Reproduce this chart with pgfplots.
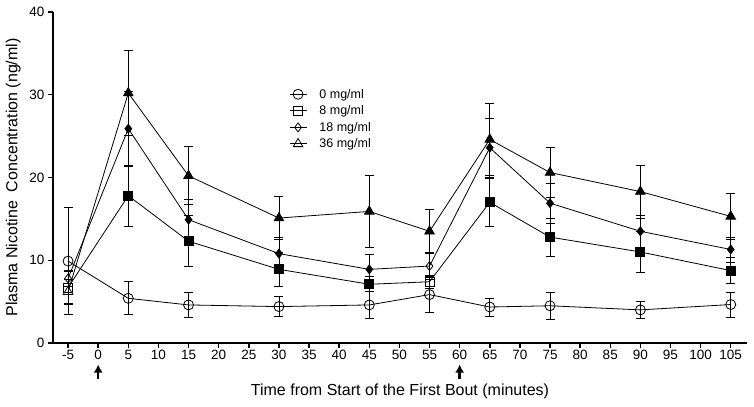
\documentclass[border=0pt]{standalone}
\usepackage{pgfplots}
\pgfplotsset{compat=1.18}
\usepackage{pgfplotstable}
\usetikzlibrary{arrows.meta}
\usepackage{fontspec}
\setmainfont{Liberation Sans}

% x, mean, error, marker class (o = open, f = filled)
\pgfplotstableread{
x y e c
-5 9.9 6.5 o
5 5.4 2.0 o
15 4.6 1.5 o
30 4.4 1.2 o
45 4.6 1.6 o
55 5.85 2.2 o
65 4.35 1.1 o
75 4.5 1.6 o
90 4.0 1.0 o
105 4.65 1.5 o
}\dzero
\pgfplotstableread{
x y e c
-5 6.7 1.9 o
5 17.8 3.7 f
15 12.3 3.1 f
30 8.9 2.0 f
45 7.1 0.9 f
55 7.4 0.8 o
65 17.0 2.9 f
75 12.8 2.3 f
90 11.0 2.5 f
105 8.75 1.55 f
}\deight
\pgfplotstableread{
x y e c
-5 7.8 1.0 o
5 25.9 4.5 f
15 14.9 2.5 f
30 10.8 2.0 f
45 8.9 1.8 f
55 9.3 1.6 o
65 23.6 3.6 f
75 16.9 2.4 f
90 13.5 1.9 f
105 11.3 1.5 f
}\deighteen
\pgfplotstableread{
x y e c
-5 6.2 1.5 o
5 30.2 5.1 f
15 20.2 3.5 f
30 15.1 2.6 f
45 15.9 4.3 f
55 13.5 2.7 f
65 24.6 4.4 f
75 20.6 3.0 f
90 18.3 3.2 f
105 15.3 2.8 f
}\dthirtysix

\pgfplotsset{
  serie/.style={black, line width=0.8bp, scatter, point meta=explicit symbolic,
    error bars/y dir=both, error bars/y explicit,
    error bars/error bar style={line width=0.8bp, black},
    error bars/error mark options={rotate=90, mark size=4.5bp, line width=0.8bp, black}},
}

\begin{document}
\begin{tikzpicture}
\begin{axis}[
  scale only axis,
  width=694bp, height=331bp,
  xmin=-7.5, xmax=107.7,
  ymin=0, ymax=40,
  axis lines=left,
  axis line style={-, line width=1.8bp},
  clip=false,
  xtick={-5,0,...,105},
  ytick={0,10,20,30,40},
  tick align=outside,
  major tick length=5bp,
  tick style={line width=1.5bp, black},
  /pgf/number format/assume math mode=true,
  ticklabel style={font=\fontsize{13.5bp}{15bp}\selectfont},
  xticklabel style={yshift=1bp},
  xlabel={Time from Start of the First Bout (minutes)},
  ylabel={Plasma Nicotine\ \ Concentration (ng/ml)},
  label style={font=\fontsize{16bp}{18bp}\selectfont},
  xlabel style={yshift=-17bp},
  ylabel style={yshift=2bp},
  legend style={draw=none, fill=none, at={(0.340,0.774)}, anchor=north west,
    inner sep=0pt,
    font=\fontsize{12.5bp}{14bp}\selectfont, row sep=2bp},
  legend cell align=left,
]
\addlegendimage{black, line width=0.8bp, mark=o, mark size=5bp, mark options={fill=white}}
\addlegendentry{\hspace{10.5bp}0 mg/ml}
\addlegendimage{black, line width=0.8bp, mark=square, mark size=4.5bp, mark options={fill=white}}
\addlegendentry{\hspace{10.5bp}8 mg/ml}
\addlegendimage{black, line width=0.8bp, mark=diamond, mark size=4.5bp, mark options={fill=white}}
\addlegendentry{\hspace{10.5bp}18 mg/ml}
\addlegendimage{black, line width=0.8bp, mark=triangle, mark size=5.5bp, mark options={fill=white}}
\addlegendentry{\hspace{10.5bp}36 mg/ml}

\addplot[serie, forget plot,
  scatter/classes={o={mark=triangle, mark size=5.5bp, fill=white, draw=black},
                   f={mark=triangle*, mark size=5.5bp, fill=black, draw=black}}]
  table[x=x, y=y, y error=e, meta=c] {\dthirtysix};
\addplot[serie, forget plot,
  scatter/classes={o={mark=diamond, mark size=4.5bp, fill=white, draw=black},
                   f={mark=diamond*, mark size=4.5bp, fill=black, draw=black}}]
  table[x=x, y=y, y error=e, meta=c] {\deighteen};
\addplot[serie, forget plot,
  scatter/classes={o={mark=square, mark size=4.5bp, fill=white, draw=black},
                   f={mark=square*, mark size=4.5bp, fill=black, draw=black}}]
  table[x=x, y=y, y error=e, meta=c] {\deight};
\addplot[serie, forget plot,
  scatter/classes={o={mark=o, mark size=5bp, fill=white, draw=black}}]
  table[x=x, y=y, y error=e, meta=c] {\dzero};

% bout start arrows
\draw[line width=2.4bp, -{Latex[length=8bp,width=9bp]}] (axis cs:0,-4.35) -- (axis cs:0,-2.6);
\draw[line width=2.4bp, -{Latex[length=8bp,width=9bp]}] (axis cs:60,-4.35) -- (axis cs:60,-2.6);

\coordinate (ll) at (rel axis cs:0,0);
\coordinate (ur) at (rel axis cs:1,1);
\end{axis}
\pgfresetboundingbox
\path ([shift={(-53bp,-64bp)}]ll) rectangle ([shift={(7bp,12bp)}]ur);
\end{tikzpicture}
\end{document}
